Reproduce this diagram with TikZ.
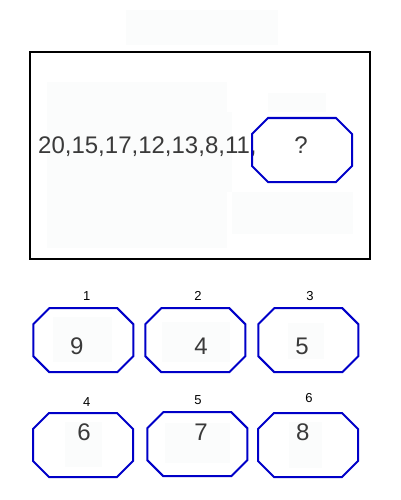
\documentclass[tikz,border=0pt]{standalone}
\usepackage{fontspec}
\setmainfont{Liberation Sans}
\definecolor{octblue}{RGB}{0,0,200}
\definecolor{numgray}{RGB}{58,58,58}
\definecolor{faint}{RGB}{251,252,252}
\begin{document}
\begin{tikzpicture}[x=1pt,y=-1pt,
  octbox/.style={minimum width=100pt,minimum height=64pt,inner sep=0pt,outer sep=0pt},
  octline/.style={draw=octblue,line width=2pt,line join=miter},
  bignum/.style={font=\fontsize{24}{24}\selectfont,text=numgray,inner sep=0pt},
  optlabel/.style={font=\fontsize{13}{13}\selectfont,text=black,inner sep=0pt},
  faintbox/.style={fill=faint,draw=none}]
\useasboundingbox (0,0) rectangle (400,500);
% faint background patches
\fill[faintbox] (126,10) rectangle (278,45);
\fill[faintbox] (47,82) rectangle (227,248);
\fill[faintbox] (227,112) rectangle (232,192);
\fill[faintbox] (268,93) rectangle (326,112);
\fill[faintbox] (232,192) rectangle (353,234);
\fill[faintbox] (53,317) rectangle (112,362);
\fill[faintbox] (162,322) rectangle (230,362);
\fill[faintbox] (288,323) rectangle (324,359);
\fill[faintbox] (65,422) rectangle (102,467);
\fill[faintbox] (165,423) rectangle (230,463);
\fill[faintbox] (289,422) rectangle (322,468);
% frame
\node[draw=black,line width=2pt,minimum width=340pt,minimum height=207pt,inner sep=0pt] (frame) at (200,155.5) {};
% sequence
\node[bignum,anchor=base west] (seq) at (38,153) {20,15,17,12,13,8,11,};
% octagons
\node[octbox] (q) at (302,150) {};
\node[octbox] (o1) at (83.3,340.2) {};
\node[octbox] (o2) at (195.3,340.2) {};
\node[octbox] (o3) at (308.3,340.2) {};
\node[octbox] (o4) at (83,445) {};
\node[octbox] (o5) at (197.3,444.2) {};
\node[octbox] (o6) at (308,445) {};
\foreach \n in {q,o1,o2,o3,o4,o5,o6}{
  \draw[octline] ([xshift=16pt]\n.north west) -- ([xshift=-16pt]\n.north east)
    -- ([yshift=-16pt]\n.north east) -- ([yshift=16pt]\n.south east)
    -- ([xshift=-16pt]\n.south east) -- ([xshift=16pt]\n.south west)
    -- ([yshift=16pt]\n.south west) -- ([yshift=-16pt]\n.north west) -- cycle;
}
% texts in octagons
\node[bignum] (qt) at (301,145) {?};
\node[bignum] (t1) at (76.7,346.5) {9};
\node[bignum] (t2) at (201,346.5) {4};
\node[bignum] (t3) at (302,346.5) {5};
\node[bignum] (t4) at (84,432.5) {6};
\node[bignum] (t5) at (201,432) {7};
\node[bignum] (t6) at (302.7,432) {8};
% option labels
\node[optlabel] (l1) at (86.7,296) {1};
\node[optlabel] (l2) at (198,296) {2};
\node[optlabel] (l3) at (310,296) {3};
\node[optlabel] (l4) at (86.7,402.5) {4};
\node[optlabel] (l5) at (198,400) {5};
\node[optlabel] (l6) at (309,398.5) {6};
\end{tikzpicture}
\end{document}
